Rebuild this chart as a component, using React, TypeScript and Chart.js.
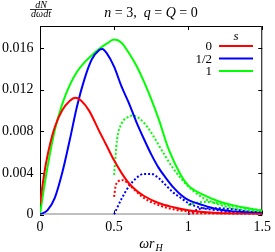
import React, { useEffect, useRef } from "react";
import { Chart, registerables } from "chart.js";

Chart.register(...registerables);

// ---- data ----
const xRed = [0, 0.02, 0.04, 0.07, 0.1, 0.15, 0.2, 0.24, 0.28, 0.33, 0.4, 0.45, 0.5, 0.55, 0.6, 0.65, 0.7, 0.8, 0.9, 1.0, 1.1, 1.2, 1.3, 1.4, 1.5];
const yRed = [0.001, 0.0031, 0.0049, 0.0069, 0.0084, 0.01, 0.0109, 0.0112, 0.0109, 0.01, 0.008, 0.0066, 0.0052, 0.004, 0.003, 0.0023, 0.0018, 0.0011, 0.0007, 0.0004, 0.00025, 0.00015, 0.0001, 0.00006, 0.00004];

const xBlue = [0, 0.05, 0.1, 0.15, 0.2, 0.25, 0.3, 0.35, 0.4, 0.42, 0.45, 0.5, 0.55, 0.6, 0.65, 0.7, 0.75, 0.8, 0.85, 0.9, 0.95, 1.0, 1.1, 1.2, 1.3, 1.4, 1.5];
const yBlue = [0, 0.0004, 0.0016, 0.004, 0.0071, 0.0104, 0.013, 0.0149, 0.0158, 0.0159, 0.0155, 0.0142, 0.0123, 0.0107, 0.0089, 0.0073, 0.0058, 0.0045, 0.0035, 0.0026, 0.0019, 0.0014, 0.0009, 0.0005, 0.0003, 0.0002, 0.0001];

const xGreen = [0, 0.02, 0.05, 0.1, 0.15, 0.2, 0.25, 0.3, 0.35, 0.4, 0.45, 0.5, 0.55, 0.6, 0.65, 0.7, 0.75, 0.8, 0.87, 0.95, 1.0, 1.1, 1.2, 1.3, 1.4, 1.5];
const yGreen = [0, 0.0019, 0.0045, 0.0081, 0.0106, 0.0124, 0.0137, 0.0146, 0.0153, 0.0159, 0.0164, 0.0168, 0.0165, 0.0155, 0.0143, 0.0128, 0.0111, 0.0092, 0.0062, 0.0038, 0.0028, 0.0019, 0.0013, 0.0009, 0.0006, 0.00037];

const xRedDot1 = [0.5, 0.51, 0.53, 0.56, 0.6, 0.65, 0.7, 0.8, 0.9, 1.0, 1.2, 1.5];
const yRedDot1 = [0.0017, 0.0027, 0.0032, 0.0033, 0.0029, 0.0022, 0.0016, 0.0009, 0.0005, 0.0003, 0.0001, 0.00003];
const xRedDot2 = [1.0, 1.1, 1.3, 1.5];
const yRedDot2 = [0.00005, 0.0001, 0.00008, 0.00005];

const xBlueDot1 = [0.5, 0.55, 0.6, 0.65, 0.7, 0.75, 0.8, 0.85, 0.9, 0.95, 1.0, 1.1, 1.2, 1.3, 1.5];
const yBlueDot1 = [0, 0.0015, 0.0027, 0.0035, 0.0039, 0.0039, 0.0035, 0.0028, 0.0021, 0.0016, 0.0011, 0.0006, 0.0004, 0.0002, 0.0001];
const xBlueDot2 = [1.0, 1.05, 1.1, 1.2, 1.3, 1.4, 1.5];
const yBlueDot2 = [0, 0.0004, 0.0006, 0.0006, 0.0005, 0.0003, 0.0002];

const xGreenDot1 = [0.5, 0.52, 0.55, 0.6, 0.63, 0.68, 0.73, 0.8, 0.85, 0.9, 0.95, 1.0, 1.1, 1.2, 1.3, 1.4, 1.5];
const yGreenDot1 = [0.0038, 0.0072, 0.0087, 0.0094, 0.0095, 0.0091, 0.0083, 0.0067, 0.0055, 0.0044, 0.0035, 0.0027, 0.0016, 0.001, 0.0006, 0.0004, 0.00025];
const xGreenDot2 = [1.0, 1.05, 1.1, 1.2, 1.3, 1.4, 1.5];
const yGreenDot2 = [0.0009, 0.0011, 0.0012, 0.0011, 0.0008, 0.0006, 0.0004];

const legendLabels = ["0", "1/2", "1"];
const legendTitle = "s";
const xTicks = [0, 0.5, 1, 1.5];
const yTicks = [0, 0.004, 0.008, 0.012, 0.016];

const RED = "#ff0000";
const BLUE = "#0000ff";
const GREEN = "#00ff00";
const SERIF = "'Liberation Serif', 'DejaVu Serif', serif";

function pts(xs: number[], ys: number[]) {
  return xs.map((x, i) => ({ x, y: ys[i] }));
}

function line(label: string, xs: number[], ys: number[], color: string, dotted: boolean) {
  return {
    label,
    data: pts(xs, ys),
    borderColor: color,
    backgroundColor: color,
    borderWidth: 2,
    borderDash: dotted ? [2, 2] : [],
    pointRadius: 0,
    fill: false,
    cubicInterpolationMode: "monotone" as const,
  };
}

const framePlugin = {
  id: "frame",
  beforeDatasetsDraw(chart: any) {
    const { ctx, chartArea: a, scales } = chart;
    ctx.save();
    ctx.lineWidth = 1;
    ctx.strokeStyle = "#000";
    ctx.beginPath();
    ctx.moveTo(a.left + 0.5, a.bottom);
    ctx.lineTo(a.left + 0.5, a.top + 0.5);
    ctx.lineTo(a.right - 0.5, a.top + 0.5);
    ctx.lineTo(a.right - 0.5, a.bottom);
    ctx.stroke();
    // inward ticks on all four sides
    const tl = 4;
    ctx.beginPath();
    for (const v of yTicks) {
      const y = Math.round(scales.y.getPixelForValue(v)) + 0.5;
      ctx.moveTo(a.left, y);
      ctx.lineTo(a.left + tl, y);
      ctx.moveTo(a.right, y);
      ctx.lineTo(a.right - tl, y);
    }
    for (const v of xTicks) {
      const x = Math.round(scales.x.getPixelForValue(v)) + 0.5;
      ctx.moveTo(x, a.top);
      ctx.lineTo(x, a.top + tl);
      ctx.moveTo(x, a.bottom);
      ctx.lineTo(x, a.bottom - tl);
    }
    ctx.stroke();
    ctx.strokeStyle = "#808080";
    ctx.beginPath();
    ctx.moveTo(a.left, a.bottom - 0.5);
    ctx.lineTo(a.right, a.bottom - 0.5);
    ctx.stroke();
    ctx.restore();
  },
  afterDraw(chart: any) {
    const { ctx } = chart;
    ctx.save();
    ctx.fillStyle = "#000";
    ctx.textBaseline = "alphabetic";

    // top title: n = 3, q = Q = 0
    const runs: [string, boolean][] = [
      ["n", true], [" = ", false], ["3", false], [",  ", false],
      ["q", true], [" = ", false], ["Q", true], [" = ", false], ["0", false],
    ];
    const fs = 14;
    let total = 0;
    for (const [t, it] of runs) {
      ctx.font = `${it ? "italic " : ""}${fs}px ${SERIF}`;
      total += ctx.measureText(t).width;
    }
    let x = 151 - total / 2;
    for (const [t, it] of runs) {
      ctx.font = `${it ? "italic " : ""}${fs}px ${SERIF}`;
      ctx.textAlign = "left";
      ctx.fillText(t, x, 17);
      x += ctx.measureText(t).width;
    }

    // dN / dωdt fraction
    ctx.font = `italic 10px ${SERIF}`;
    ctx.textAlign = "center";
    ctx.fillText("dN", 41, 7.5);
    ctx.fillText("dωdt", 41, 17);
    ctx.fillRect(30, 9, 22, 0.8);

    // x axis title ωr_H
    ctx.font = `italic 14px ${SERIF}`;
    ctx.textAlign = "left";
    const w1 = ctx.measureText("ωr").width;
    ctx.font = `italic 10px ${SERIF}`;
    const w2 = ctx.measureText("H").width;
    const x0 = 151 - (w1 + w2 + 1) / 2;
    ctx.font = `italic 14px ${SERIF}`;
    ctx.fillText("ωr", x0, 247.5);
    ctx.font = `italic 10px ${SERIF}`;
    ctx.fillText("H", x0 + w1 + 1, 250.5);

    // legend
    ctx.font = `italic 13px ${SERIF}`;
    ctx.textAlign = "center";
    ctx.fillText(legendTitle, 236, 40);
    ctx.font = `13px ${SERIF}`;
    ctx.textAlign = "right";
    const cols = [RED, BLUE, GREEN];
    const ys = [46, 58.5, 71];
    legendLabels.forEach((lab, i) => {
      ctx.fillStyle = "#000";
      ctx.fillText(lab, 212, ys[i] + 4);
      ctx.strokeStyle = cols[i];
      ctx.lineWidth = 2;
      ctx.beginPath();
      ctx.moveTo(219, ys[i]);
      ctx.lineTo(253, ys[i]);
      ctx.stroke();
    });
    ctx.restore();
  },
};

export default function App() {
  const ref = useRef<HTMLCanvasElement | null>(null);
  useEffect(() => {
    document.body.style.margin = "0";
    const canvas = ref.current!;
    const chart = new Chart(canvas, {
      type: "line",
      data: {
        datasets: [
          line("0", xRed, yRed, RED, false),
          line("1/2", xBlue, yBlue, BLUE, false),
          line("1", xGreen, yGreen, GREEN, false),
          line("0b", xRedDot1, yRedDot1, RED, true),
          line("0c", xRedDot2, yRedDot2, RED, true),
          line("1/2b", xBlueDot1, yBlueDot1, BLUE, true),
          line("1/2c", xBlueDot2, yBlueDot2, BLUE, true),
          line("1b", xGreenDot1, yGreenDot1, GREEN, true),
          line("1c", xGreenDot2, yGreenDot2, GREEN, true),
        ],
      },
      options: {
        responsive: false,
        animation: false,
        devicePixelRatio: 1,
        layout: { padding: { left: 0, top: 26, right: 12.5, bottom: 0 } },
        plugins: { legend: { display: false }, tooltip: { enabled: false }, title: { display: false } },
        scales: {
          x: {
            type: "linear",
            min: 0,
            max: 1.5,
            afterFit: (s: any) => { s.height = 37.5; },
            grid: { display: false, drawTicks: false },
            border: { display: false },
            ticks: {
              stepSize: 0.5,
              autoSkip: false,
              maxRotation: 0,
              padding: 4,
              color: "#000",
              font: { family: SERIF, size: 14 },
              callback: (v: any) => (v === 0 ? "0" : String(v)),
            },
          },
          y: {
            type: "linear",
            min: 0,
            max: 0.0181,
            afterFit: (s: any) => { s.width = 40; },
            grid: { display: false, drawTicks: false },
            border: { display: false },
            ticks: {
              stepSize: 0.004,
              includeBounds: false,
              padding: 6.5,
              color: "#000",
              font: { family: SERIF, size: 14 },
              callback: (v: any) => (Math.abs(v) < 1e-9 ? "0" : Number(v).toFixed(3)),
            },
          },
        },
      },
      plugins: [framePlugin],
    });
    return () => chart.destroy();
  }, []);
  return (
    <div style={{ position: "absolute", left: 0, top: 0, width: 275, height: 252 }}>
      <canvas ref={ref} width={275} height={252} style={{ width: 275, height: 252, display: "block" }} />
    </div>
  );
}
